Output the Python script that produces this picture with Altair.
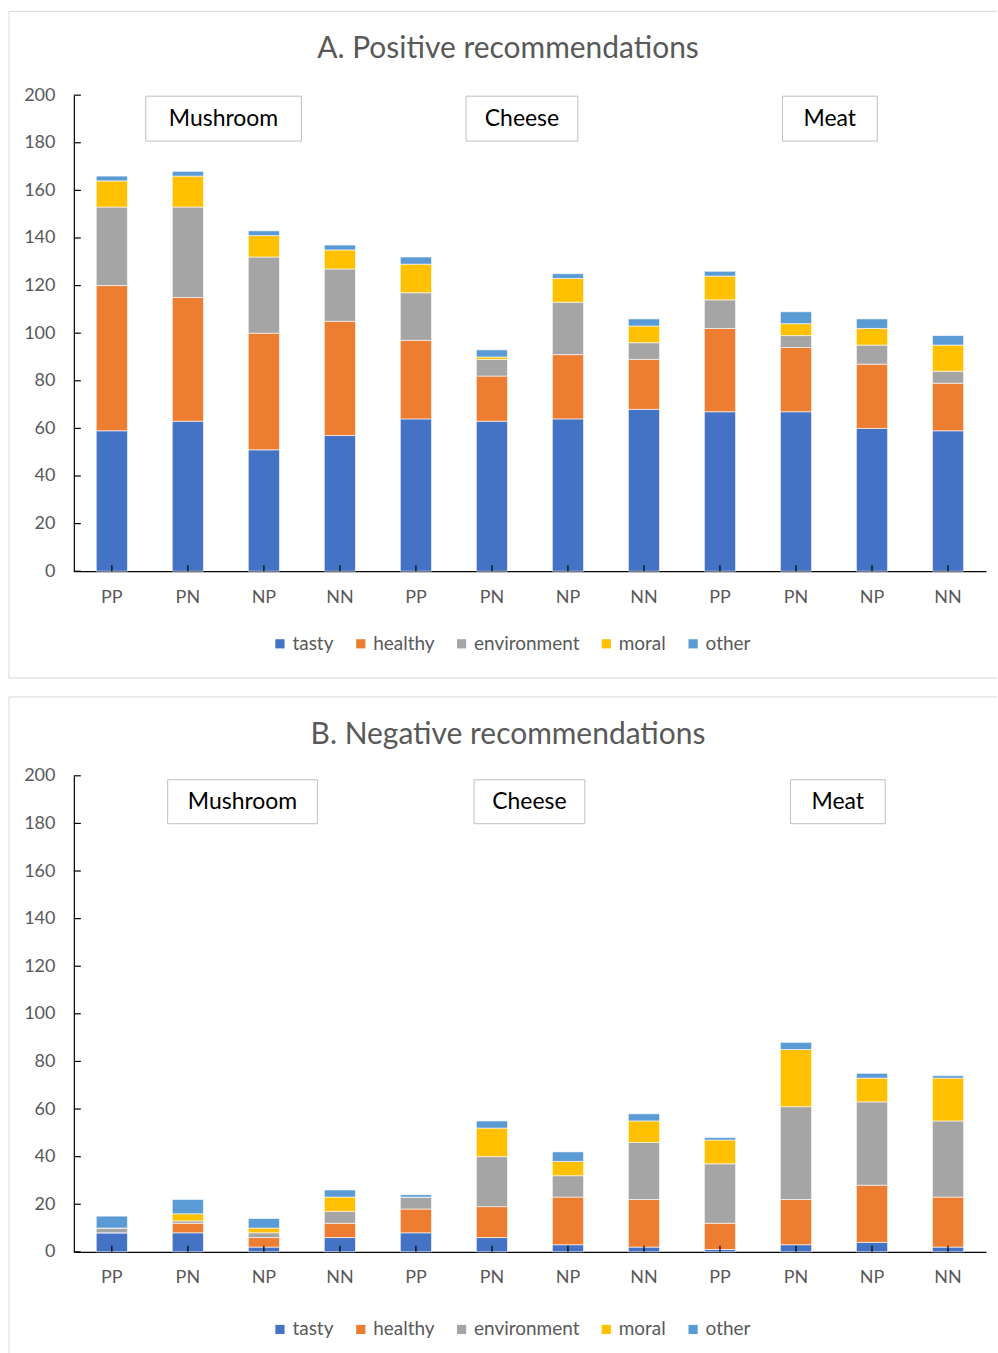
import altair as alt
import pandas as pd

FONT = "Lato"
GRAY = "#595959"

groups = ["Mushroom", "Cheese", "Meat"]
conditions = ["PP", "PN", "NP", "NN"]
reasons = ["tasty", "healthy", "environment", "moral", "other"]
colors = ["#4472C4", "#ED7D31", "#A5A5A5", "#FFC000", "#5B9BD5"]
y_ticks = [0, 20, 40, 60, 80, 100, 120, 140, 160, 180, 200]

# A. Positive recommendations (segment heights, 12 bars: Mushroom, Cheese, Meat x PP, PN, NP, NN)
pos_tasty = [59, 63, 51, 57, 64, 63, 64, 68, 67, 67, 60, 59]
pos_healthy = [61, 52, 49, 48, 33, 19, 27, 21, 35, 27, 27, 20]
pos_environment = [33, 38, 32, 22, 20, 7, 22, 7, 12, 5, 8, 5]
pos_moral = [11, 13, 9, 8, 12, 1, 10, 7, 10, 5, 7, 11]
pos_other = [2, 2, 2, 2, 3, 3, 2, 3, 2, 5, 4, 4]

# B. Negative recommendations
neg_tasty = [8, 8, 2, 6, 8, 6, 3, 2, 1, 3, 4, 2]
neg_healthy = [0, 4, 4, 6, 10, 13, 20, 20, 11, 19, 24, 21]
neg_environment = [2, 1, 2, 5, 5, 21, 9, 24, 25, 39, 35, 32]
neg_moral = [0, 3, 2, 6, 0, 12, 6, 9, 10, 24, 10, 18]
neg_other = [5, 6, 4, 3, 1, 3, 4, 3, 1, 3, 2, 1]

cats = [f"{g}|{c}" for g in groups for c in conditions]

W, H = 914, 477


def long_df(series):
    rows = []
    for ri, r in enumerate(reasons):
        for ci, cat in enumerate(cats):
            rows.append({"cat": cat, "reason": r, "order": ri, "value": series[ri][ci]})
    return pd.DataFrame(rows)


xaxis = alt.Axis(title=None, labelExpr="split(datum.label, '|')[1]", ticks=False,
                 labelAngle=0, labelFontSize=18, labelColor=GRAY, labelFont=FONT,
                 labelPadding=17, domainColor="black", domainWidth=1.2)
yaxis = alt.Axis(title=None, values=y_ticks, ticks=False, grid=False,
                 labelFontSize=18, labelColor=GRAY, labelFont=FONT,
                 labelPadding=19, domainColor="black", domainWidth=1.2)


def panel(title, series, boxes, title_y, legend_y, border_bottom, border_top):
    df = long_df(series)
    xscale = alt.Scale(paddingInner=0.59, paddingOuter=0.295)
    bars = alt.Chart(df).mark_bar(stroke="white", strokeWidth=0.6).encode(
        x=alt.X("cat:N", sort=cats, scale=xscale, axis=xaxis),
        y=alt.Y("value:Q", stack="zero", scale=alt.Scale(domain=[0, 200], nice=False), axis=yaxis),
        color=alt.Color("reason:N", sort=reasons,
                        scale=alt.Scale(domain=reasons, range=colors),
                        legend=alt.Legend(title=None, orient="none", direction="horizontal",
                                          legendX=197, legendY=legend_y,
                                          symbolType="square", symbolSize=85,
                                          symbolStrokeWidth=0, labelFontSize=19,
                                          labelFont=FONT, labelColor=GRAY,
                                          labelOffset=3, columnPadding=17)),
        order=alt.Order("order:Q", sort="ascending"),
    )
    ytick = alt.Chart(pd.DataFrame({"value": y_ticks})).mark_rule(color="black", strokeWidth=1.2).encode(
        y=alt.Y("value:Q", title=None), x=alt.value(0), x2=alt.value(7))
    xtick = alt.Chart(pd.DataFrame({"cat": cats})).mark_rule(color="black", strokeWidth=1.2).encode(
        x=alt.X("cat:N", sort=cats, title=None), y=alt.value(H), y2=alt.value(H - 6))

    layers = [bars, ytick, xtick]
    for label, (x1, x2, y1, y2) in zip(groups, boxes):
        d = pd.DataFrame({"label": [label]})
        layers.append(alt.Chart(d).mark_rect(fill="white", stroke="#BFBFBF", strokeWidth=1).encode(
            x=alt.value(x1), x2=alt.value(x2), y=alt.value(y1), y2=alt.value(y2)))
        layers.append(alt.Chart(d).mark_text(font=FONT, fontSize=23, color="black").encode(
            x=alt.value((x1 + x2) / 2), y=alt.value((y1 + y2) / 2), text="label:N"))

    # panel title
    layers.append(alt.Chart(pd.DataFrame({"t": [title]})).mark_text(
        font=FONT, fontSize=30, color=GRAY, baseline="middle", align="center").encode(
        x=alt.value(435), y=alt.value(title_y), text="t:N"))

    # panel frame (light grey border)
    fr = pd.DataFrame({"f": [0]})
    layers.append(alt.Chart(fr).mark_rule(color="#D9D9D9").encode(
        x=alt.value(-65), x2=alt.value(925), y=alt.value(border_top)))
    layers.append(alt.Chart(fr).mark_rule(color="#D9D9D9").encode(
        x=alt.value(-65), y=alt.value(border_top), y2=alt.value(border_bottom)))
    if border_bottom < 585:
        layers.append(alt.Chart(fr).mark_rule(color="#D9D9D9").encode(
            x=alt.value(-65), x2=alt.value(925), y=alt.value(border_bottom)))

    return alt.layer(*layers).properties(width=W, height=H)


boxesA = [(72, 228, 1, 46), (393, 505, 1, 46), (710, 805, 1, 46)]
boxesB = [(94, 244, 4, 48), (401, 512, 4, 48), (718, 813, 4, 48)]

pA = panel("A. Positive recommendations",
           [pos_tasty, pos_healthy, pos_environment, pos_moral, pos_other],
           boxesA, -46, 540, 584, -84)
pB = panel("B. Negative recommendations",
           [neg_tasty, neg_healthy, neg_environment, neg_moral, neg_other],
           boxesB, -41, 545, 580, -79)

chart = alt.vconcat(pA, pB, spacing=17).resolve_legend(color="independent").configure(
    padding={"left": 8, "top": 9, "right": 0, "bottom": 0},
    background="white",
).configure_view(stroke=None)

chart.save("out.html", embed_options={"renderer": "svg", "actions": False})
